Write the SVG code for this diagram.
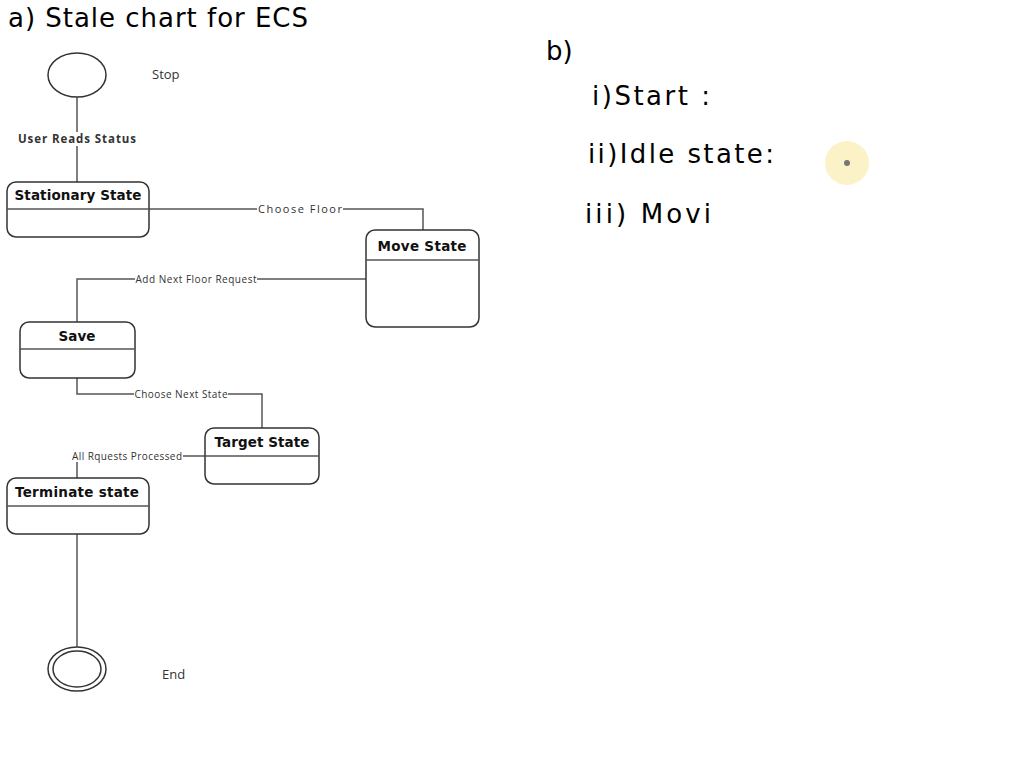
<svg xmlns="http://www.w3.org/2000/svg" width="1024" height="768" viewBox="0 0 1024 768">
<style>
.box{fill:#fff;stroke:#333;stroke-width:1.5}
.ln{fill:none;stroke:#555;stroke-width:1.5}
.t{font-family:"DejaVu Sans",sans-serif;font-weight:bold;font-size:13.5px;fill:#111}
.lb{font-family:"Open Sans","Liberation Sans",sans-serif;font-size:10px;fill:#333}
.big{font-size:13px}
.hw{font-family:"DejaVu Sans",sans-serif;font-size:26px;fill:#000}
</style>
<rect width="1024" height="768" fill="#fff"/>
<text class="hw" x="8" y="27" textLength="300">a) Stale chart  for ECS</text>
<text class="hw" x="546" y="60">b)</text>
<text class="hw" x="592" y="105" textLength="118">i)Start :</text>
<text class="hw" x="588" y="163" textLength="186">ii)Idle state:</text>
<text class="hw" x="585" y="223" textLength="126">iii) Movi</text>
<circle cx="847" cy="163" r="22" fill="#fbf2c8"/>
<circle cx="847" cy="163" r="3" fill="#777"/>
<g id="connectors">
<path class="ln" d="M77 97V182"/>
<path class="ln" d="M149 209H423V230"/>
<path class="ln" d="M366 279H77V322"/>
<path class="ln" d="M77 378V394H262V428"/>
<path class="ln" d="M205 456H77V478"/>
<path class="ln" d="M77 534V647"/>
<rect x="17" y="132" width="120" height="14" fill="#fff"/>
<text class="lb" x="77" y="143" text-anchor="middle" textLength="118" style="font-size:11.5px;font-weight:bold">User Reads Status</text>
<rect x="257" y="203" width="86" height="12" fill="#fff"/>
<text class="lb" x="300" y="213" text-anchor="middle" textLength="84" style="font-size:11px">Choose Floor</text>
<rect x="135" y="273" width="122" height="12" fill="#fff"/>
<text class="lb" x="196" y="283" text-anchor="middle" textLength="121">Add Next Floor Request</text>
<rect x="134" y="388" width="94" height="12" fill="#fff"/>
<text class="lb" x="181" y="398" text-anchor="middle" textLength="93">Choose Next State</text>
<rect x="72" y="450" width="111" height="12" fill="#fff"/>
<text class="lb" x="127" y="460" text-anchor="middle" textLength="110">All Rquests Processed</text>
</g>
<g id="stop"><ellipse class="box" cx="77" cy="75" rx="29" ry="22"/><text class="lb big" x="152" y="79">Stop</text></g>
<g id="stationary"><rect class="box" x="7" y="182" width="142" height="55" rx="9"/><path class="ln" d="M7 209H149"/><text class="t" x="78" y="200" text-anchor="middle" textLength="127">Stationary State</text></g>
<g id="move"><rect class="box" x="366" y="230" width="113" height="97" rx="9"/><path class="ln" d="M366 260H479"/><text class="t" x="422" y="251" text-anchor="middle" textLength="89">Move State</text></g>
<g id="save"><rect class="box" x="20" y="322" width="115" height="56" rx="9"/><path class="ln" d="M20 349H135"/><text class="t" x="77" y="341" text-anchor="middle">Save</text></g>
<g id="target"><rect class="box" x="205" y="428" width="114" height="56" rx="9"/><path class="ln" d="M205 456H319"/><text class="t" x="262" y="447" text-anchor="middle" textLength="95">Target State</text></g>
<g id="terminate"><rect class="box" x="7" y="478" width="142" height="56" rx="9"/><path class="ln" d="M7 506H149"/><text class="t" x="77" y="497" text-anchor="middle" textLength="124">Terminate state</text></g>
<g id="end"><ellipse class="box" cx="77" cy="669" rx="29" ry="22"/><ellipse class="box" cx="77" cy="669" rx="24" ry="18"/><text class="lb big" x="162" y="679">End</text></g>
</svg>
